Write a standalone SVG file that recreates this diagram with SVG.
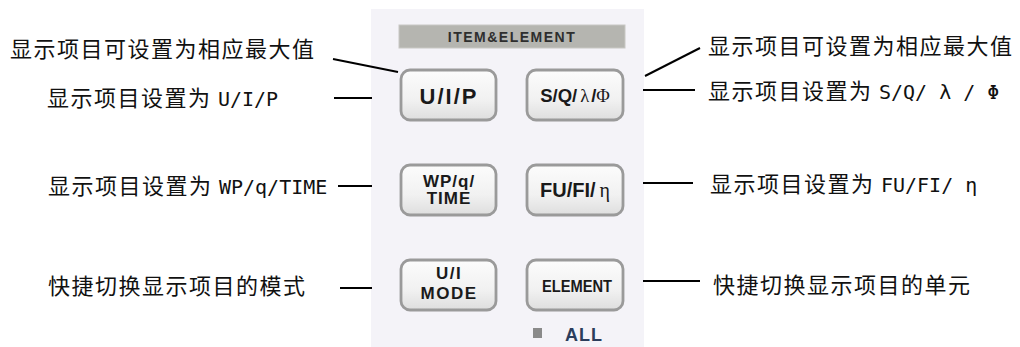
<svg xmlns="http://www.w3.org/2000/svg" width="1020" height="347" viewBox="0 0 1020 347">
<defs>
<linearGradient id="btnGrad" x1="0" y1="0" x2="0" y2="1">
<stop offset="0" stop-color="#fcfcfc"/>
<stop offset="0.6" stop-color="#f1f1f1"/>
<stop offset="1" stop-color="#dedede"/>
</linearGradient>
<style>
.lbl{font-family:"Noto Sans CJK SC",sans-serif;font-size:22px;letter-spacing:1.5px;fill:#111}
.lat{font-family:"DejaVu Sans Mono","Liberation Mono",monospace;font-size:20px;letter-spacing:0}
.btn{fill:url(#btnGrad);stroke:#9a9a9a;stroke-width:2.8}
.bt{font-family:"Liberation Sans",Arial,sans-serif;font-weight:bold;fill:#1a1a1a;text-anchor:middle}
.gk{font-family:"Liberation Serif","Times New Roman",serif;font-weight:normal}
.conn line{stroke:#000;stroke-width:2}
</style>
</defs>
<rect x="0" y="0" width="1020" height="347" fill="#ffffff"/>
<g id="panel">
<rect x="371" y="9" width="273" height="338" fill="#f4f3f8"/>
<rect x="399" y="25" width="226" height="23" fill="#b5b5b0" stroke="#c8c8c4" stroke-width="1"/>
<text x="512" y="41.5" class="bt" style="font-size:14px;letter-spacing:1.5px;fill:#2e2e2e">ITEM&amp;ELEMENT</text>
<rect x="533" y="328" width="9" height="10" fill="#8a8a8a"/>
<text x="565" y="341" style="font-family:'Liberation Sans',Arial,sans-serif;font-weight:bold;font-size:18px;letter-spacing:1px;fill:#2b3d5c">ALL</text>
</g>
<g id="btn-uip">
<rect class="btn" x="401" y="70" width="95" height="50" rx="9"/>
<text class="bt" x="449" y="104" style="font-size:22px;letter-spacing:2px">U/I/P</text>
</g>
<g id="btn-sq">
<rect class="btn" x="527" y="70" width="96" height="50" rx="9"/>
<text class="bt" x="575" y="102" style="font-size:18.5px">S/Q/<tspan class="gk" dx="3">λ</tspan><tspan dx="2">/</tspan><tspan class="gk">Φ</tspan></text>
</g>
<g id="btn-wp">
<rect class="btn" x="401" y="165" width="95" height="50" rx="9"/>
<text class="bt" x="449" y="187" style="font-size:17px;letter-spacing:1px">WP/q/</text>
<text class="bt" x="449" y="204" style="font-size:17px;letter-spacing:1px">TIME</text>
</g>
<g id="btn-fu">
<rect class="btn" x="527" y="165" width="96" height="50" rx="9"/>
<text class="bt" x="575" y="197" style="font-size:20px">FU/FI/<tspan class="gk" dx="4">η</tspan></text>
</g>
<g id="btn-mode">
<rect class="btn" x="401" y="260" width="95" height="50" rx="9"/>
<text class="bt" x="449" y="279" style="font-size:17px;letter-spacing:1.5px">U/I</text>
<text class="bt" x="449" y="299" style="font-size:17px;letter-spacing:1.5px">MODE</text>
</g>
<g id="btn-element">
<rect class="btn" x="527" y="260" width="96" height="50" rx="9"/>
<text class="bt" x="577" y="292" style="font-size:16px" textLength="70" lengthAdjust="spacingAndGlyphs">ELEMENT</text>
</g>
<g id="label-l1"><text class="lbl" x="10" y="57">显示项目可设置为相应最大值</text></g>
<g id="label-l2"><text class="lbl" x="47" y="106">显示项目设置为 <tspan class="lat">U/I/P</tspan></text></g>
<g id="label-l3"><text class="lbl" x="48" y="194">显示项目设置为 <tspan class="lat">WP/q/TIME</tspan></text></g>
<g id="label-l4"><text class="lbl" x="48" y="294">快捷切换显示项目的模式</text></g>
<g id="label-r1"><text class="lbl" x="708" y="54">显示项目可设置为相应最大值</text></g>
<g id="label-r2"><text class="lbl" x="708" y="99">显示项目设置为 <tspan class="lat">S/Q/ λ / Φ</tspan></text></g>
<g id="label-r3"><text class="lbl" x="710" y="192">显示项目设置为 <tspan class="lat">FU/FI/ η</tspan></text></g>
<g id="label-r4"><text class="lbl" x="713" y="293">快捷切换显示项目的单元</text></g>
<g id="connectors" class="conn">
<line x1="333" y1="59" x2="398" y2="72"/>
<line x1="334" y1="98" x2="372" y2="98"/>
<line x1="338" y1="186" x2="372" y2="186"/>
<line x1="340" y1="288" x2="372" y2="288"/>
<line x1="645" y1="76" x2="700" y2="48"/>
<line x1="643" y1="90" x2="695" y2="90"/>
<line x1="643" y1="183" x2="693" y2="183"/>
<line x1="643" y1="281" x2="700" y2="281"/>
</g>
</svg>
